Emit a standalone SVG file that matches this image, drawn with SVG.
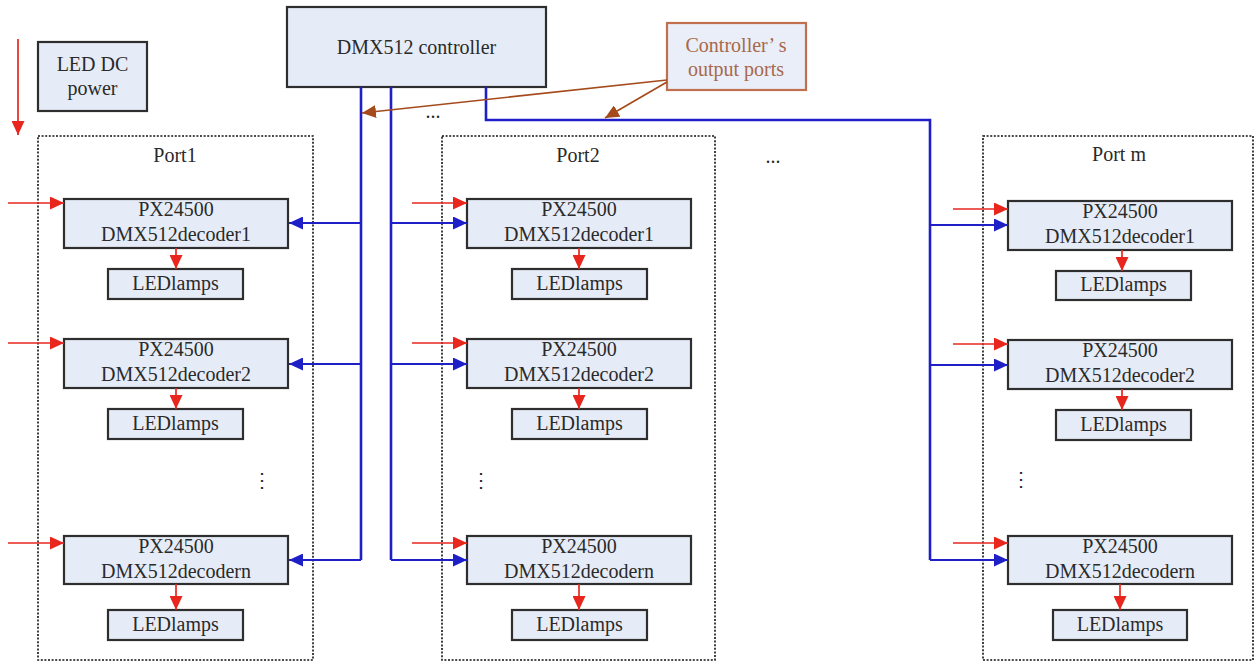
<svg xmlns="http://www.w3.org/2000/svg" width="1257" height="661" viewBox="0 0 1257 661">
<style>
text{font-family:"Liberation Serif","Times New Roman",serif;font-size:20px;fill:#2a2a2a;text-anchor:middle}
.box{fill:#e6ecf7;stroke:#2e2e2e;stroke-width:2.2}
.port{fill:none;stroke:#111;stroke-width:1.6;stroke-dasharray:2 1.6}
.red{stroke:#e8261e;stroke-width:1.7;fill:none}
.blue{stroke:#1f1fc8;stroke-width:2;fill:none}
.bus{stroke:#1f1fc8;stroke-width:2.6;fill:none}
.brown{stroke:#a54a1c;stroke-width:1.7;fill:none}
.note{fill:#e9eef8;stroke:#c0704e;stroke-width:2.2}
.notet{fill:#a8684a}
</style>
<defs>
<marker id="ar" markerUnits="userSpaceOnUse" markerWidth="15" markerHeight="13" refX="14" refY="6.5" orient="auto"><path d="M0,0 L14,6.5 L0,13 Z" fill="#e8261e"/></marker>
<marker id="ab" markerUnits="userSpaceOnUse" markerWidth="15" markerHeight="13" refX="14" refY="6.5" orient="auto"><path d="M0,0 L14,6.5 L0,13 Z" fill="#1f1fc8"/></marker>
<marker id="an" markerUnits="userSpaceOnUse" markerWidth="15" markerHeight="13" refX="14" refY="6.5" orient="auto"><path d="M0,0 L14,6.5 L0,13 Z" fill="#a54a1c"/></marker>
</defs>

<g id="port1">
<rect class="port" x="38" y="136" width="275" height="524"/>
<text x="175" y="162">Port1</text>
<text x="262" y="487" font-size="16">⋮</text>
</g>
<g id="port2">
<rect class="port" x="442" y="136" width="273" height="524"/>
<text x="578" y="162">Port2</text>
<text x="481" y="487" font-size="16">⋮</text>
</g>
<g id="portm">
<rect class="port" x="983" y="136" width="270" height="524"/>
<text x="1119" y="161">Port m</text>
<text x="1021" y="486" font-size="16">⋮</text>
</g>

<g id="power">
<rect class="box" x="38" y="42" width="109" height="69"/>
<text x="92.5" y="71">LED DC</text>
<text x="92.5" y="95">power</text>
</g>
<g id="controller">
<rect class="box" x="287" y="7" width="259" height="80"/>
<text x="416.5" y="54">DMX512 controller</text>
</g>
<g id="outports">
<rect class="note" x="667" y="23" width="139" height="67"/>
<text class="notet" x="736" y="52">Controller’ s</text>
<text class="notet" x="736" y="76">output ports</text>
</g>

<g id="p1d1"><rect class="box" x="64" y="199" width="224" height="49"/><text x="176" y="216">PX24500</text><text x="176" y="241">DMX512decoder1</text></g>
<g id="p1l1"><rect class="box" x="108" y="269" width="135" height="30"/><text x="175.5" y="290">LEDlamps</text></g>
<g id="p1d2"><rect class="box" x="64" y="339" width="224" height="49"/><text x="176" y="356">PX24500</text><text x="176" y="381">DMX512decoder2</text></g>
<g id="p1l2"><rect class="box" x="108" y="409" width="135" height="30"/><text x="175.5" y="430">LEDlamps</text></g>
<g id="p1dn"><rect class="box" x="64" y="536" width="224" height="48"/><text x="176" y="553">PX24500</text><text x="176" y="578">DMX512decodern</text></g>
<g id="p1ln"><rect class="box" x="108" y="610" width="135" height="30"/><text x="175.5" y="631">LEDlamps</text></g>

<g id="p2d1"><rect class="box" x="467" y="199" width="224" height="49"/><text x="579" y="216">PX24500</text><text x="579" y="241">DMX512decoder1</text></g>
<g id="p2l1"><rect class="box" x="512" y="269" width="135" height="30"/><text x="579.5" y="290">LEDlamps</text></g>
<g id="p2d2"><rect class="box" x="467" y="339" width="224" height="49"/><text x="579" y="356">PX24500</text><text x="579" y="381">DMX512decoder2</text></g>
<g id="p2l2"><rect class="box" x="512" y="409" width="135" height="30"/><text x="579.5" y="430">LEDlamps</text></g>
<g id="p2dn"><rect class="box" x="467" y="536" width="224" height="48"/><text x="579" y="553">PX24500</text><text x="579" y="578">DMX512decodern</text></g>
<g id="p2ln"><rect class="box" x="512" y="610" width="135" height="30"/><text x="579.5" y="631">LEDlamps</text></g>

<g id="pmd1"><rect class="box" x="1008" y="201" width="224" height="49"/><text x="1120" y="218">PX24500</text><text x="1120" y="243">DMX512decoder1</text></g>
<g id="pml1"><rect class="box" x="1056" y="271" width="135" height="29"/><text x="1123.5" y="291">LEDlamps</text></g>
<g id="pmd2"><rect class="box" x="1008" y="340" width="224" height="49"/><text x="1120" y="357">PX24500</text><text x="1120" y="382">DMX512decoder2</text></g>
<g id="pml2"><rect class="box" x="1056" y="410" width="135" height="30"/><text x="1123.5" y="431">LEDlamps</text></g>
<g id="pmdn"><rect class="box" x="1008" y="536" width="224" height="48"/><text x="1120" y="553">PX24500</text><text x="1120" y="578">DMX512decodern</text></g>
<g id="pmln"><rect class="box" x="1053" y="610" width="134" height="30"/><text x="1120" y="631">LEDlamps</text></g>

<text x="433" y="118">...</text>
<text x="773" y="163">...</text>

<g id="connectors">
<path class="red" d="M18,39 V135" marker-end="url(#ar)"/>
<path class="red" d="M8,203 H64" marker-end="url(#ar)"/>
<path class="red" d="M8,343 H64" marker-end="url(#ar)"/>
<path class="red" d="M8,543 H64" marker-end="url(#ar)"/>
<path class="red" d="M412,203 H467" marker-end="url(#ar)"/>
<path class="red" d="M412,343 H467" marker-end="url(#ar)"/>
<path class="red" d="M412,543 H467" marker-end="url(#ar)"/>
<path class="red" d="M953,209 H1008" marker-end="url(#ar)"/>
<path class="red" d="M953,344 H1008" marker-end="url(#ar)"/>
<path class="red" d="M953,543 H1008" marker-end="url(#ar)"/>
<path class="red" d="M176,248 V269" marker-end="url(#ar)"/>
<path class="red" d="M176,388 V409" marker-end="url(#ar)"/>
<path class="red" d="M176,584 V610" marker-end="url(#ar)"/>
<path class="red" d="M579,248 V269" marker-end="url(#ar)"/>
<path class="red" d="M579,388 V409" marker-end="url(#ar)"/>
<path class="red" d="M579,584 V610" marker-end="url(#ar)"/>
<path class="red" d="M1122,250 V271" marker-end="url(#ar)"/>
<path class="red" d="M1122,389 V410" marker-end="url(#ar)"/>
<path class="red" d="M1120,584 V610" marker-end="url(#ar)"/>
<path class="bus" d="M361,87 V560"/>
<path class="bus" d="M391,87 V560"/>
<path class="bus" d="M486,87 V120 H930 V560"/>
<path class="blue" d="M361,223 H289" marker-end="url(#ab)"/>
<path class="blue" d="M361,364 H289" marker-end="url(#ab)"/>
<path class="blue" d="M361,560 H289" marker-end="url(#ab)"/>
<path class="blue" d="M391,223 H467" marker-end="url(#ab)"/>
<path class="blue" d="M391,364 H467" marker-end="url(#ab)"/>
<path class="blue" d="M391,560 H467" marker-end="url(#ab)"/>
<path class="blue" d="M930,225 H1008" marker-end="url(#ab)"/>
<path class="blue" d="M930,365 H1008" marker-end="url(#ab)"/>
<path class="blue" d="M930,560 H1008" marker-end="url(#ab)"/>
<path class="brown" d="M667,80 L362,113" marker-end="url(#an)"/>
<path class="brown" d="M667,82 L605,118" marker-end="url(#an)"/>
</g>
</svg>
